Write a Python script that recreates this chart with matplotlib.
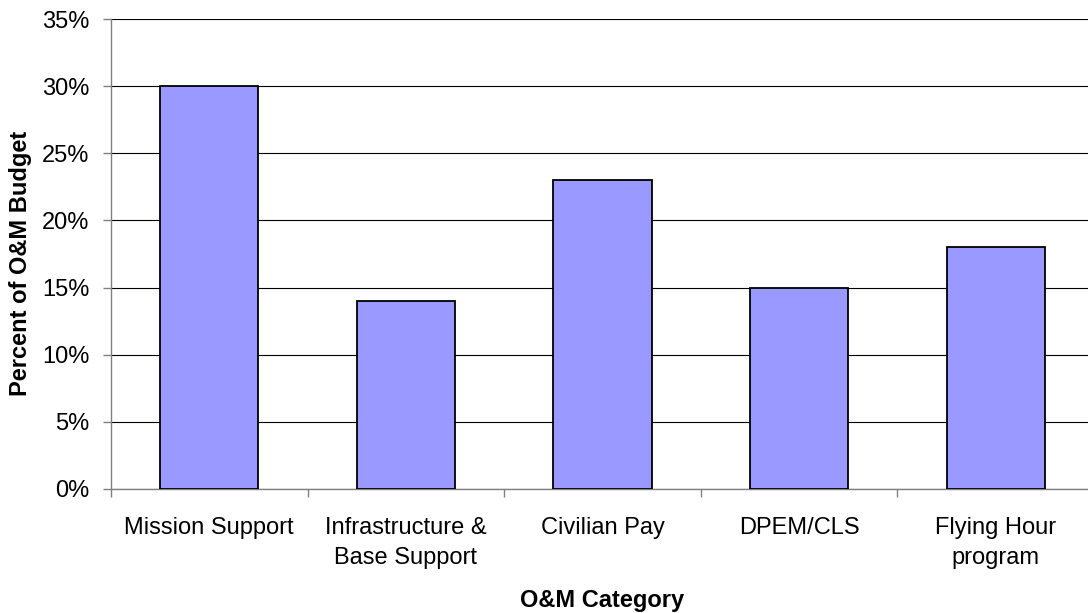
import matplotlib.pyplot as plt
from matplotlib.ticker import FixedLocator, PercentFormatter

categories = ["Mission Support", "Infrastructure &\nBase Support", "Civilian Pay",
              "DPEM/CLS", "Flying Hour\nprogram"]
percent = [30, 14, 23, 15, 18]
y_ticks = [0, 5, 10, 15, 20, 25, 30, 35]

plt.rcParams['font.family'] = ['Liberation Sans', 'DejaVu Sans']

fig = plt.figure(figsize=(10.88, 6.13), dpi=100)
ax = fig.add_axes([0.102, 0.2023, 0.9035, 0.7667])

x = range(len(categories))
ax.bar(x, percent, width=0.5, color='#9999FF', edgecolor='black', linewidth=1.3, zorder=3)

ax.set_ylim(0, 35)
ax.set_xlim(-0.5, len(categories) - 0.5)
ax.set_yticks(y_ticks)
ax.yaxis.set_major_formatter(PercentFormatter(decimals=0))
ax.yaxis.grid(True, color='black', linewidth=0.8, zorder=0)
ax.set_axisbelow(True)

ax.set_xticks(list(x))
ax.set_xticklabels(categories, fontsize=17, linespacing=1.5)
ax.xaxis.set_minor_locator(FixedLocator([i - 0.5 for i in range(len(categories) + 1)]))
ax.tick_params(axis='x', which='major', length=0, pad=20)
ax.tick_params(axis='x', which='minor', length=5.5, color='#808080', width=1.0)
ax.tick_params(axis='y', length=5.5, color='#808080', width=1.0, labelsize=17, pad=10)

for side in ['top', 'right']:
    ax.spines[side].set_visible(False)
for side in ['left', 'bottom']:
    ax.spines[side].set_color('#808080')
    ax.spines[side].set_linewidth(1.0)

ax.set_ylabel("Percent of O&M Budget", fontsize=17, fontweight='bold')
ax.set_xlabel("O&M Category", fontsize=17, fontweight='bold')
ax.yaxis.set_label_coords(-0.080, 0.48)
ax.xaxis.set_label_coords(0.5, -0.212)

fig.savefig("out.png", dpi=100)
